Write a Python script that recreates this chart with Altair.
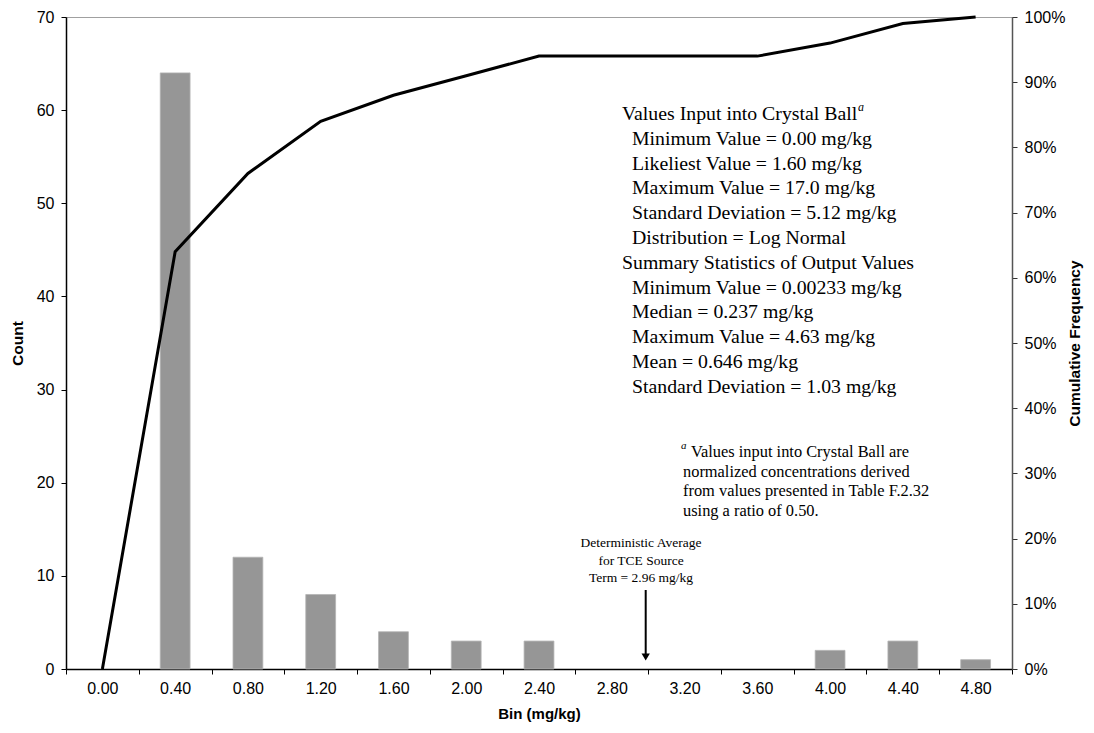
import altair as alt
import pandas as pd

bins = ["0.00", "0.40", "0.80", "1.20", "1.60", "2.00", "2.40",
        "2.80", "3.20", "3.60", "4.00", "4.40", "4.80"]
counts = [0, 64, 12, 8, 4, 3, 3, 0, 0, 0, 2, 3, 1]
cumulative = [0.00, 0.64, 0.76, 0.84, 0.88, 0.91, 0.94, 0.94, 0.94, 0.94, 0.96, 0.99, 1.00]

left_ticks = [0, 10, 20, 30, 40, 50, 60, 70]
right_ticks = [0.0, 0.1, 0.2, 0.3, 0.4, 0.5, 0.6, 0.7, 0.8, 0.9, 1.0]

input_header = "Values Input into Crystal Ball"
input_lines = ["Minimum Value = 0.00 mg/kg", "Likeliest Value = 1.60 mg/kg",
               "Maximum Value = 17.0 mg/kg", "Standard Deviation = 5.12 mg/kg",
               "Distribution = Log Normal"]
output_header = "Summary Statistics of Output Values"
output_lines = ["Minimum Value = 0.00233 mg/kg", "Median = 0.237 mg/kg",
                "Maximum Value = 4.63 mg/kg", "Mean = 0.646 mg/kg",
                "Standard Deviation = 1.03 mg/kg"]
footnote_first = "Values input into Crystal Ball are"
footnote_rest = ["normalized concentrations derived",
                 "from values presented in Table F.2.32",
                 "using a ratio of 0.50."]
det_lines = ["Deterministic Average", "for TCE Source", "Term = 2.96 mg/kg"]

df = pd.DataFrame({"bin": bins, "count": counts, "cum": cumulative})

SANS = "Liberation Sans"
SERIF = "Liberation Serif"
OX, OY = 66, 17  # page position of plot origin
W, H = 946, 669 - OY

x_enc = alt.X("bin:N", sort=bins, title="Bin (mg/kg)",
              scale=alt.Scale(paddingInner=0, paddingOuter=0),
              axis=alt.Axis(labelAngle=0, tickBand="extent", domainColor="black",
                            domainWidth=1.5, tickColor="black", tickSize=5,
                            labelFont=SANS, labelFontSize=16, labelPadding=6,
                            labelColor="black", titleFont=SANS, titleFontSize=15,
                            titleFontWeight="bold", titleColor="black",
                            titleX=W / 2, titleY=713 - (OY + H),
                            titleAlign="center", titleBaseline="middle",
                            grid=False))

bars = alt.Chart(df).transform_filter("datum.count > 0").mark_bar(
    width=alt.RelativeBandSize(0.41), color="#969696",
    stroke="#b4b4b4", strokeWidth=0.8).encode(
    x=x_enc,
    y=alt.Y("count:Q", title="Count",
            scale=alt.Scale(domain=[0, 70], nice=False),
            axis=alt.Axis(orient="left", values=left_ticks, grid=False,
                          domainColor="black", domainWidth=1.5, tickColor="black",
                          tickSize=5, labelFont=SANS, labelFontSize=16,
                          labelColor="black", labelPadding=7, titleFont=SANS,
                          titleFontSize=15.5, titleFontWeight="bold",
                          titleColor="black", titleAngle=270,
                          titleX=17.5 - OX, titleY=H / 2,
                          titleAlign="center", titleBaseline="middle")),
)

line = alt.Chart(df).mark_line(color="black", strokeWidth=3).encode(
    x=alt.X("bin:N", sort=bins),
    y=alt.Y("cum:Q", title="Cumulative Frequency",
            scale=alt.Scale(domain=[0, 1], nice=False),
            axis=alt.Axis(orient="right", values=right_ticks, format=".0%",
                          grid=False, domainColor="#555555", domainWidth=1.5,
                          tickColor="#333333", tickSize=5, labelFont=SANS,
                          labelFontSize=16, labelColor="black", labelPadding=7,
                          titleFont=SANS, titleFontSize=15.5, titleFontWeight="bold",
                          titleColor="black", titleAngle=270,
                          titleX=1074 - (OX + W), titleY=H / 2,
                          titleAlign="center", titleBaseline="middle")),
)


def txt(text, px, py, size, align="left", font=SERIF, style="normal"):
    return alt.Chart(alt.Data(values=[{}])).mark_text(
        text=text, x=px - OX, y=py - OY, fontSize=size, font=font,
        align=align, baseline="alphabetic", fontStyle=style, color="black")


layers = [bars, line]

# Crystal Ball block
LH = 24.8
y0 = 120
rows = [(input_header, 622)] + [(t, 632) for t in input_lines] + \
       [(output_header, 622)] + [(t, 632) for t in output_lines]
for i, (t, xx) in enumerate(rows):
    layers.append(txt(t, xx, y0 + i * LH, 19.8))
layers.append(txt("a", 858, 111, 12, style="italic"))

# footnote
layers.append(txt("a", 681, 449, 11, style="italic"))
layers.append(txt(footnote_first, 691, 457, 16.4))
for i, t in enumerate(footnote_rest):
    layers.append(txt(t, 683, 457 + (i + 1) * 19.7, 16.4))

# deterministic average
for i, t in enumerate(det_lines):
    layers.append(txt(t, 641, 547 + i * 17.5, 13.5, align="center"))

arrow_x = 645.7 - OX
arrow_line = alt.Chart(alt.Data(values=[{}])).mark_rule(
    color="black", strokeWidth=2).encode(
    x=alt.value(arrow_x), y=alt.value(590 - OY), y2=alt.value(655 - OY))
arrow_head = alt.Chart(alt.Data(values=[{}])).mark_point(
    shape="triangle-down", filled=True, color="black", size=70, opacity=1).encode(
    x=alt.value(arrow_x), y=alt.value(657 - OY))
layers += [arrow_line, arrow_head]

TOTAL_W, TOTAL_H = 1078, 717
chart = alt.layer(*layers).resolve_scale(y="independent").properties(
    width=W, height=H, autosize="none",
    padding={"left": OX - 8, "top": OY - 8,
             "right": TOTAL_W - (OX - 8) - W,
             "bottom": TOTAL_H - (OY - 8) - H},
).configure_view(stroke="#a0a0a0", strokeWidth=1)

chart.save("out.html", embed_options={"renderer": "svg", "actions": False})
